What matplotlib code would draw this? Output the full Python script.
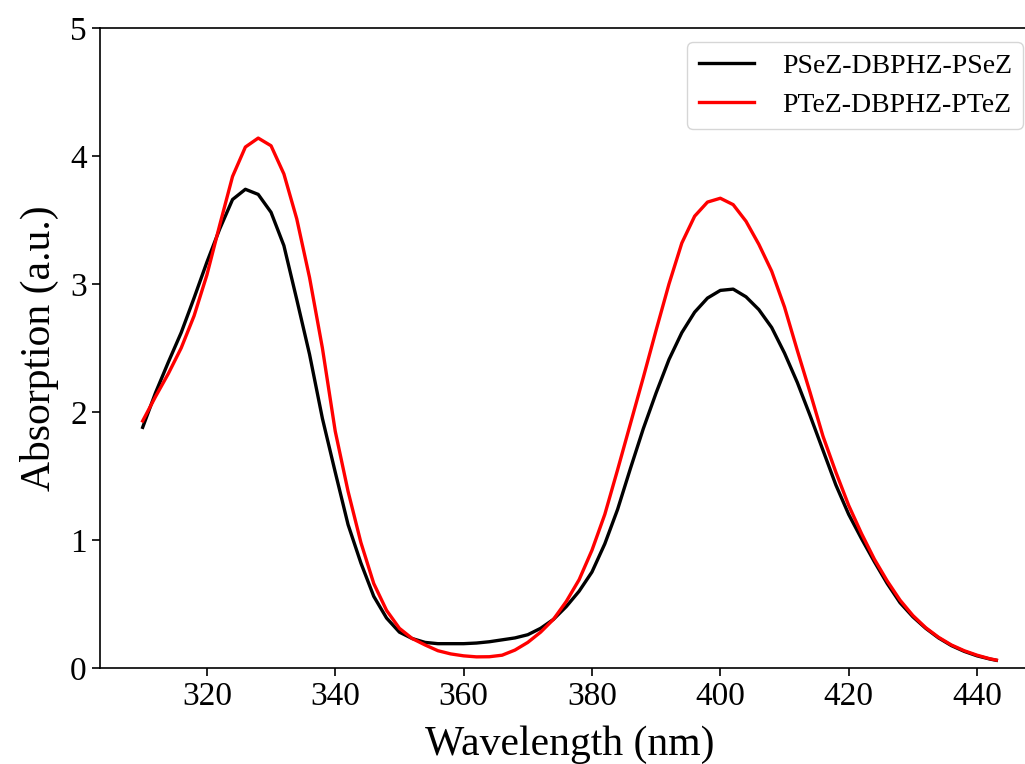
import matplotlib
matplotlib.use("Agg")
import matplotlib.pyplot as plt

# --- Données
wavelength = [310, 312, 314, 316, 318, 320, 322, 324, 326, 328, 330, 332, 334, 336, 338,
              340, 342, 344, 346, 348, 350, 352, 354, 356, 358, 360, 362, 364, 366, 368,
              370, 372, 374, 376, 378, 380, 382, 384, 386, 388, 390, 392, 394, 396, 398,
              400, 402, 404, 406, 408, 410, 412, 414, 416, 418, 420, 422, 424, 426, 428,
              430, 432, 434, 436, 438, 440, 442, 443]

psez = [1.88, 2.15, 2.39, 2.62, 2.89, 3.17, 3.43, 3.66, 3.74, 3.70, 3.56, 3.30, 2.88, 2.45, 1.95,
        1.53, 1.12, 0.82, 0.56, 0.39, 0.28, 0.23, 0.20, 0.19, 0.19, 0.19, 0.195, 0.205, 0.22, 0.235,
        0.26, 0.31, 0.38, 0.48, 0.60, 0.75, 0.97, 1.24, 1.56, 1.87, 2.15, 2.41, 2.62, 2.78, 2.89,
        2.95, 2.96, 2.90, 2.80, 2.66, 2.46, 2.23, 1.97, 1.70, 1.43, 1.20, 1.01, 0.83, 0.66, 0.51,
        0.40, 0.31, 0.235, 0.175, 0.13, 0.095, 0.07, 0.06]

ptez = [1.93, 2.12, 2.30, 2.50, 2.75, 3.07, 3.46, 3.84, 4.07, 4.14, 4.08, 3.86, 3.51, 3.05, 2.50,
        1.85, 1.38, 0.98, 0.66, 0.45, 0.31, 0.23, 0.18, 0.135, 0.11, 0.095, 0.087, 0.088, 0.10, 0.14,
        0.20, 0.28, 0.38, 0.52, 0.69, 0.92, 1.20, 1.55, 1.91, 2.27, 2.64, 3.00, 3.32, 3.53, 3.64,
        3.67, 3.62, 3.49, 3.31, 3.10, 2.82, 2.48, 2.15, 1.81, 1.53, 1.27, 1.05, 0.85, 0.68, 0.53,
        0.41, 0.315, 0.24, 0.18, 0.135, 0.10, 0.072, 0.062]

labels = ["PSeZ-DBPHZ-PSeZ", "PTeZ-DBPHZ-PTeZ"]

plt.rcParams.update({
    "font.family": ["Liberation Serif", "DejaVu Serif"],
    "axes.linewidth": 1.2,
    "xtick.major.size": 6,
    "ytick.major.size": 6,
    "xtick.major.width": 1.2,
    "ytick.major.width": 1.2,
})

fig = plt.figure(figsize=(10.25, 7.64), dpi=100)
# l'axe dépasse à droite (image recadrée)
ax = fig.add_axes([100 / 1025, 96 / 764, 939 / 1025, 640 / 764])

ax.plot(wavelength, psez, color="black", linewidth=2.4, label=labels[0])
ax.plot(wavelength, ptez, color="red", linewidth=2.4, label=labels[1])

ax.set_xlim(303.35, 449.65)
ax.set_ylim(0, 5)
ax.set_xticks([320, 340, 360, 380, 400, 420, 440])
ax.set_yticks([0, 1, 2, 3, 4, 5])
ax.tick_params(labelsize=24)

ax.set_xlabel("Wavelength (nm)", fontsize=30, labelpad=10)
ax.set_ylabel("Absorption (a.u.)", fontsize=30, labelpad=8)

ax.legend(loc="upper right", bbox_to_anchor=(1023 / 1025, 1 - 42 / 764),
          bbox_transform=fig.transFigure, borderaxespad=0, fontsize=20,
          handletextpad=1.0, borderpad=0.4)

fig.savefig("out.png", dpi=100)
